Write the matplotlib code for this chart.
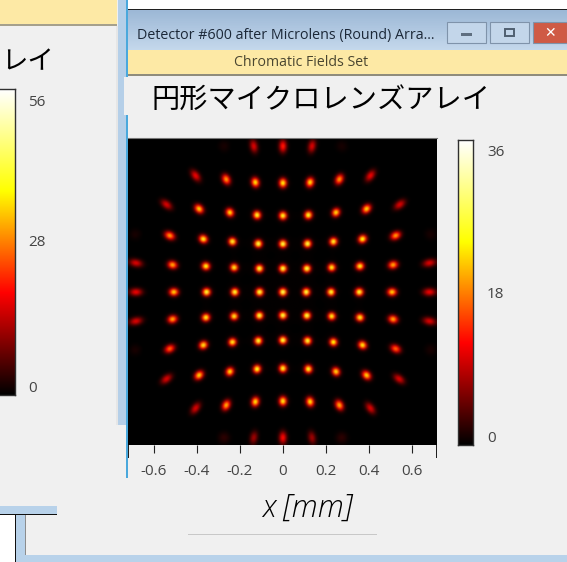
import matplotlib
matplotlib.use('Agg')
import matplotlib.pyplot as plt
from matplotlib.colors import LinearSegmentedColormap
from matplotlib.patches import Rectangle
import numpy as np

W, H = 567, 562
plt.rcParams['font.family'] = ['Open Sans', 'Noto Sans CJK JP', 'DejaVu Sans']

# spot positions, one list per row [mm]
row_y = [
    [0.682, 0.682, 0.682],
    [0.544, 0.527, 0.513, 0.510, 0.513, 0.527, 0.544],
    [0.409, 0.389, 0.372, 0.360, 0.357, 0.360, 0.372, 0.389, 0.409],
    [0.264, 0.248, 0.236, 0.226, 0.225, 0.226, 0.236, 0.248, 0.264],
    [0.136, 0.127, 0.121, 0.115, 0.110, 0.110, 0.110, 0.115, 0.121, 0.127, 0.136],
    [0, 0, 0, 0, 0, 0, 0, 0, 0, 0, 0],
    [-0.136, -0.127, -0.119, -0.113, -0.110, -0.109, -0.110, -0.113, -0.119, -0.127, -0.136],
    [-0.265, -0.248, -0.234, -0.228, -0.225, -0.228, -0.234, -0.248, -0.265],
    [-0.406, -0.389, -0.372, -0.360, -0.357, -0.360, -0.372, -0.389, -0.406],
    [-0.543, -0.529, -0.513, -0.510, -0.513, -0.529, -0.543],
    [-0.681, -0.681, -0.681],
]
row_x = [
    [-0.136, 0, 0.136],
    [-0.408, -0.265, -0.129, 0, 0.127, 0.264, 0.409],
    [-0.544, -0.392, -0.248, -0.121, 0, 0.119, 0.248, 0.391, 0.546],
    [-0.529, -0.372, -0.236, -0.115, 0, 0.115, 0.236, 0.372, 0.527],
    [-0.687, -0.516, -0.360, -0.228, -0.110, 0, 0.112, 0.228, 0.360, 0.515, 0.685],
    [-0.687, -0.510, -0.357, -0.225, -0.109, 0, 0.109, 0.225, 0.357, 0.510, 0.685],
    [-0.687, -0.516, -0.360, -0.228, -0.110, 0, 0.112, 0.228, 0.360, 0.515, 0.685],
    [-0.529, -0.372, -0.236, -0.115, 0, 0.115, 0.236, 0.372, 0.527],
    [-0.544, -0.392, -0.248, -0.121, 0, 0.119, 0.248, 0.391, 0.543],
    [-0.408, -0.265, -0.129, 0, 0.127, 0.264, 0.409],
    [-0.136, 0, 0.136],
]
row_peak = [
    [11, 14, 11],
    [12, 21, 25, 26, 25, 21, 12],
    [11, 24, 25, 28, 28, 28, 25, 24, 11],
    [21, 27, 28, 30, 30, 30, 28, 27, 21],
    [11, 22, 27, 27, 30, 30, 30, 27, 27, 22, 11],
    [12, 24, 29, 29, 30, 31, 30, 29, 29, 24, 12],
    [11, 22, 27, 27, 30, 30, 30, 27, 27, 22, 11],
    [18, 26, 27, 29, 30, 29, 27, 26, 18],
    [11, 24, 25, 28, 28, 28, 25, 24, 11],
    [11, 22, 25, 26, 25, 22, 11],
    [8, 13, 8],
]
faint_x = [-0.275, 0.275, -0.275, 0.275, -0.69, 0.69, -0.69, 0.69]
faint_y = [0.682, 0.682, -0.681, -0.681, 0.27, 0.27, -0.27, -0.27]
faint_peak = [1.2, 1.2, 2.2, 2.2, 1.2, 1.2, 1.2, 1.2]

xticks = [-0.6, -0.4, -0.2, 0, 0.2, 0.4, 0.6]
xticklabels = ['-0.6', '-0.4', '-0.2', '0', '0.2', '0.4', '0.6']
cbar_max = 36
left_labels = ['56', '28', '0']

heat = LinearSegmentedColormap.from_list('heat', ['black', 'red', 'yellow', 'white'])


def px_axes(x0, y0, x1, y1, **kw):
    return fig.add_axes([x0 / W, 1 - y1 / H, (x1 - x0) / W, (y1 - y0) / H], **kw)


def rect(x0, y0, x1, y1, color, z=1):
    bg.add_patch(Rectangle((x0, y0), x1 - x0, y1 - y0, fc=color, ec='none', zorder=z))


fig = plt.figure(figsize=(W / 100, H / 100), dpi=100, facecolor='#f0f0f0')

# window chrome, in pixel coordinates
bg = fig.add_axes([0, 0, 1, 1], zorder=0)
bg.set_xlim(0, W)
bg.set_ylim(H, 0)
bg.axis('off')
rect(0, 0, 117, 24, '#fde9a5')
rect(0, 24, 117, 26, '#a5a08c')
rect(116, 26, 118, 425, '#e6e6e6')
rect(118, 0, 128, 425, '#b5cfe8')
rect(126, 0, 128, 478, '#4aa8dc', 2)
rect(128, 0, W, 9, 'white')
rect(128, 9, W, 10, '#202020')
grad = np.linspace(0, 1, 40).reshape(-1, 1)
bg.imshow(grad, extent=(128, W, 50, 10), aspect='auto', zorder=1,
          cmap=LinearSegmentedColormap.from_list('bar', ['#9db8d6', '#c4d8ec']))
bg.set_xlim(0, W)
bg.set_ylim(H, 0)
rect(128, 50, W, 74, '#fde9a5')
rect(128, 74, W, 76, '#8f8c7c')
rect(124, 77, 128, 115, '#f0f0f0', 3)
rect(0, 506, 57, 514, '#b8d2ea')
rect(0, 514, 57, 515, '#101010')
rect(0, 515, 15, H, 'white')
rect(15, 515, 16, H, '#101010')
rect(16, 515, 25, H, '#b8d2ea')
rect(25, 515, 26, 556, '#8c8c8c')
rect(18, 555, W, H, '#b8d2ea')
rect(188, 534, 377, 535, '#c8c8c8')
for x0, x1, col in [(447, 486, '#c3d6ea'), (490, 529, '#c3d6ea'), (533, W, '#cf5a45')]:
    bg.add_patch(Rectangle((x0, 22), x1 - x0, 21, fc=col, ec='#7f93aa', lw=0.8, zorder=2))
rect(461, 33, 472, 36, '#5f6f80', 3)
bg.add_patch(Rectangle((505, 29), 9, 7, fc='none', ec='#4f5f70', lw=1.4, zorder=3))
bg.text(550, 33, '✕', color='white', fontsize=10, ha='center', va='center',
        fontweight='bold', family='DejaVu Sans', zorder=3)

bg.text(137, 35, 'Detector #600 after Microlens (Round) Arra...', fontsize=10.3,
        color='#1c2838', ha='left', va='center')
bg.text(301, 62, 'Chromatic Fields Set', fontsize=10.2, color='#4a4630', ha='center', va='center')
bg.text(321, 102, '円形マイクロレンズアレイ', fontsize=20.3, color='black', ha='center', va='center')
bg.text(54, 63, 'レイ', fontsize=19, color='black', ha='right', va='center')
bg.text(307, 508, 'x [mm]', fontsize=22, style='italic', color='black', ha='center', va='center',
        family='Open Sans', fontweight='light')

# intensity map: each read-off spot stretched along its radius
xlim = (-0.72, 0.716)
ylim = (-0.711, 0.716)
gx, gy = np.meshgrid(np.linspace(*xlim, 170), np.linspace(*ylim, 170))
field = np.zeros_like(gx)
for xs, ys, ps in zip(row_x, row_y, row_peak):
    for sx, sy, peak in zip(xs, ys, ps):
        r = np.hypot(sx, sy)
        ux, uy = (sx / r, sy / r) if r > 0 else (1, 0)
        du = (gx - sx) * ux + (gy - sy) * uy
        dv = -(gx - sx) * uy + (gy - sy) * ux
        su = 0.0115 + 0.009 * (r / 0.7) ** 4
        field += peak * np.exp(-du ** 2 / (2 * su ** 2) - dv ** 2 / (2 * 0.0115 ** 2))
        field += 0.008 * peak * np.exp(-((gx - sx) ** 2 + (gy - sy) ** 2) / (2 * 0.04 ** 2))
for sx, sy, peak in zip(faint_x, faint_y, faint_peak):
    field += peak * np.exp(-((gx - sx) ** 2 + (gy - sy) ** 2) / (2 * 0.018 ** 2))

ax = px_axes(128, 138, 437, 445, zorder=1)
ax.imshow(field, origin='lower', extent=(*xlim, *ylim), cmap=heat, vmin=0, vmax=cbar_max,
          aspect='auto', interpolation='bicubic')
ax.set_xticks(xticks, xticklabels, fontsize=11, color='#444444')
ax.set_yticks([])
ax.tick_params(axis='x', length=6, width=0.8, pad=8, color='#222222')
for s in ['left', 'right', 'bottom']:
    ax.spines[s].set_visible(False)
ax.spines['top'].set_color('#777777')
ax.spines['top'].set_linewidth(0.8)

# corner ticks
rect(128, 445, 129, 458, '#202020', 3)
rect(436, 445, 437, 458, '#202020', 3)

# colour bars: 0 and the maximum labels sit inside the bar ends
cb = px_axes(458, 140, 473, 445, zorder=1)
cb.imshow(np.linspace(0, 1, 256).reshape(-1, 1), origin='lower', cmap=heat, aspect='auto',
          extent=(0, 1, -1.0, 37.6))
cb.set_xticks([])
cb.set_yticks([])
for s in cb.spines.values():
    s.set_color('#303030')
    s.set_linewidth(1)
for lab, y in zip(['36', '18', '0'], [153, 294, 438]):
    bg.text(487, y, lab, fontsize=11, color='#444444', ha='left', va='center')

lb = px_axes(-2, 89, 15, 395, zorder=1)
lb.imshow(np.linspace(0, 1, 256).reshape(-1, 1), origin='lower', cmap=heat, aspect='auto')
lb.set_xticks([])
lb.set_yticks([])
for s in lb.spines.values():
    s.set_color('#303030')
    s.set_linewidth(1)
for lab, y in zip(left_labels, [102, 243, 388]):
    bg.text(28, y, lab, fontsize=11, color='#444444', ha='left', va='center')

fig.savefig('out.png', dpi=100, facecolor=fig.get_facecolor())
